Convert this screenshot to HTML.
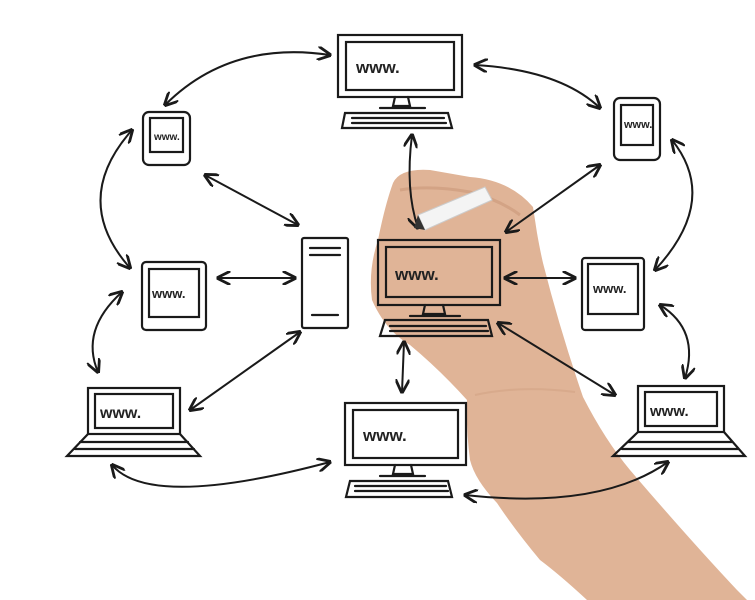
<!DOCTYPE html>
<html><head><meta charset="utf-8"><style>
html,body{margin:0;padding:0;background:#fff;}
svg{display:block}
text{font-family:"Liberation Sans",sans-serif;font-weight:bold;fill:#222}
</style></head><body>
<svg width="755" height="600" viewBox="0 0 755 600" xmlns="http://www.w3.org/2000/svg">
<defs>
<marker id="a" viewBox="0 0 10 10" refX="9" refY="5" markerWidth="7" markerHeight="7" orient="auto-start-reverse">
<path d="M0,0 L10,5 L0,10" fill="none" stroke="#1a1a1a" stroke-width="2"/>
</marker>
</defs>
<path d="M393 183 Q400 168 430 170 L470 177 Q510 180 533 207 L537 233 Q540 250 543 263 Q560 330 583 397 Q605 440 630 470 Q690 540 737 590 L747 600 L587 600 Q560 575 540 560 Q515 530 497 503 Q475 480 470 460 Q466 430 467 400 Q440 370 410 345 Q385 330 372 300 Q368 270 378 240 Q385 205 393 183 Z" fill="#e0b497"/>
<path d="M400 190 Q430 185 470 192 Q500 200 520 215" fill="none" stroke="#c9977a" stroke-width="3" opacity="0.6"/>
<path d="M475 395 Q520 385 575 392" fill="none" stroke="#d0a082" stroke-width="2" opacity="0.5"/>
<g fill="none" stroke="#1a1a1a" stroke-width="2.2" stroke-linecap="round">
<rect x="338" y="35" width="124" height="62"/><rect x="346" y="42" width="108" height="48"/>
<path d="M395 97 L393 106 L410 106 L408 97 M380 108 L425 108"/>
<path d="M345 113 L448 113 L452 128 L342 128 Z M352 118 L444 118 M352 123 L446 123"/>
<rect x="143" y="112" width="47" height="53" rx="6"/><rect x="150" y="118" width="33" height="34"/>
<rect x="614" y="98" width="46" height="62" rx="6"/><rect x="621" y="105" width="32" height="40"/>
<rect x="142" y="262" width="64" height="68" rx="4"/><rect x="149" y="269" width="50" height="48"/>
<rect x="302" y="238" width="46" height="90" rx="2"/>
<path d="M310 248 L340 248 M310 255 L340 255 M312 315 L338 315"/>
<rect x="378" y="240" width="122" height="65"/><rect x="386" y="247" width="106" height="50"/>
<path d="M425 305 L423 314 L445 314 L443 305 M410 316 L460 316"/>
<path d="M385 320 L488 320 L492 336 L380 336 Z M390 326 L486 326 M390 331 L488 331"/>
<rect x="582" y="258" width="62" height="72" rx="3"/><rect x="588" y="264" width="50" height="50"/>
<rect x="88" y="388" width="92" height="46"/><rect x="95" y="394" width="78" height="34"/>
<path d="M88 434 L67 456 L200 456 L180 434 M80 442 L188 442 M75 449 L194 449"/>
<rect x="345" y="403" width="121" height="62"/><rect x="353" y="410" width="105" height="48"/>
<path d="M395 465 L393 474 L413 474 L411 465 M380 476 L425 476"/>
<path d="M350 481 L448 481 L452 497 L346 497 Z M355 486 L446 486 M355 491 L448 491"/>
<rect x="638" y="386" width="86" height="46"/><rect x="645" y="392" width="72" height="34"/>
<path d="M638 432 L613 456 L745 456 L724 432 M628 442 L732 442 M622 449 L738 449"/>
</g>
<g font-size="17">
<text x="356" y="73">www.</text>
<text x="154" y="140" font-size="10">www.</text>
<text x="624" y="128" font-size="11">www.</text>
<text x="152" y="298" font-size="13">www.</text>
<text x="395" y="280">www.</text>
<text x="593" y="293" font-size="13">www.</text>
<text x="100" y="418" font-size="16">www.</text>
<text x="363" y="441">www.</text>
<text x="650" y="416" font-size="15">www.</text>
</g>
<g fill="none" stroke="#1a1a1a" stroke-width="2" marker-start="url(#a)" marker-end="url(#a)">
<path d="M330 55 Q230 40 165 105"/>
<path d="M475 65 Q560 70 600 108"/>
<path d="M132 130 Q70 200 130 268"/>
<path d="M672 140 Q720 200 655 270"/>
<path d="M122 292 Q80 330 98 372"/>
<path d="M660 305 Q700 330 685 378"/>
<path d="M205 175 L298 225"/>
<path d="M600 165 L506 232"/>
<path d="M218 278 L295 278"/>
<path d="M505 278 L575 278"/>
<path d="M412 135 Q405 190 418 228"/>
<path d="M404 342 L402 392"/>
<path d="M300 332 L190 410"/>
<path d="M498 323 L615 395"/>
<path d="M112 465 Q150 510 330 462"/>
<path d="M465 495 Q600 510 668 462"/>
</g>
<path d="M418 215 L485 187 L492 200 L425 230 Z" fill="#f4f4f4" stroke="#ccc"/>
<path d="M418 215 L425 230 L414 228 Z" fill="#333"/>
</svg>
</body></html>
